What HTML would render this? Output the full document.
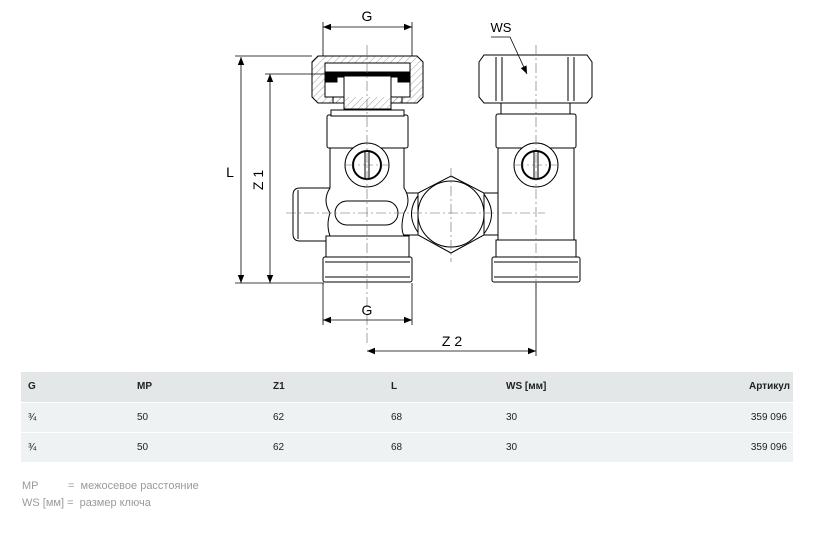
<!DOCTYPE html>
<html><head><meta charset="utf-8"><style>
body{margin:0;width:818px;height:536px;background:#fff;font-family:"Liberation Sans",sans-serif;position:relative;overflow:hidden}
svg{position:absolute;left:0;top:0}
.t{position:absolute;left:21px;width:772px;font-size:10px;color:#222}
.r{position:absolute;left:0;width:772px;height:29px}
.r span{position:absolute;top:9px}
.lg{position:absolute;font-size:11px;color:#9a9a9a}
</style></head><body>
<svg width="818" height="360" viewBox="0 0 818 360">
<defs>
<marker id="a" viewBox="0 0 10 10" refX="10" refY="5" markerWidth="10" markerHeight="8" orient="auto-start-reverse" markerUnits="userSpaceOnUse"><path d="M0,1 L10,5 L0,9z" fill="#000"/></marker>
<pattern id="h" width="5" height="5" patternUnits="userSpaceOnUse" patternTransform="rotate(45)"><line x1="0" y1="0" x2="0" y2="5" stroke="#777" stroke-width="0.7"/></pattern>
</defs>
<g fill="#fff" stroke="#000" stroke-width="1">
<!-- left side stub -->
<path d="M330,188 L300,188 Q293,188 293,195 L293,234 Q293,241 300,241 L330,241z"/>
<line x1="298" y1="190" x2="298" y2="239"/>
<rect x="400" y="193" width="20" height="42"/>
<rect x="483" y="193" width="18" height="42"/>
<path d="M483,193 Q500,214 483,235"/>
<path d="M420,193 Q403,214 420,235"/>
<path d="M330,148 L404,148 L404,188 Q412,200 404,213 Q400,228 404,236 L330,236 Q326,225 330,213 Q322,200 330,188z"/>
<rect x="326" y="236" width="83" height="21"/>
<rect x="323" y="257" width="89" height="25" rx="2"/>
<line x1="325" y1="262" x2="410" y2="262"/><line x1="325" y1="277" x2="410" y2="277"/>
<rect x="335" y="201" width="63" height="24" rx="12"/>
<rect x="327" y="115" width="81" height="33" rx="2"/>
<rect x="331" y="110" width="73" height="6"/>
<circle cx="367" cy="165" r="22"/><circle cx="367" cy="165" r="14" stroke-width="2"/>
<line x1="365" y1="152" x2="365" y2="178"/><line x1="369" y1="152" x2="369" y2="178"/>
<path d="M318,56 L417,56 L423,62 L423,97 L417,103 L318,103 L312,97 L312,62z" fill="url(#h)"/>
<rect x="325" y="63" width="85" height="34" fill="#fff"/>
<path d="M325,72 L410,72 L410,82 L398,82 L398,77 L337,77 L337,82 L325,82z" fill="#000"/>
<rect x="344" y="76" width="47" height="33"/>
<path d="M327,97 L333,97 L333,103 L344,103 L344,109 L391,109 L391,103 L402,103 L402,97 L408,97" fill="url(#h)"/>
<path d="M484,55 L587,55 L592,62 L592,97 L587,103 L484,103 L479,97 L479,62z"/>
<line x1="496" y1="57" x2="496" y2="101"/><line x1="502" y1="57" x2="502" y2="101"/>
<line x1="568" y1="57" x2="568" y2="101"/><line x1="574" y1="57" x2="574" y2="101"/>
<rect x="501" y="103" width="69" height="11"/>
<rect x="496" y="114" width="80" height="34" rx="2"/>
<rect x="498" y="148" width="76" height="92"/>
<rect x="496" y="240" width="80" height="17"/>
<rect x="492" y="257" width="88" height="25" rx="2"/>
<line x1="494" y1="262" x2="578" y2="262"/><line x1="494" y1="277" x2="578" y2="277"/>
<circle cx="536" cy="165" r="22"/><circle cx="536" cy="165" r="14" stroke-width="2"/>
<line x1="534" y1="152" x2="534" y2="178"/><line x1="538" y1="152" x2="538" y2="178"/>
<polygon points="451,176 484,193 484,235 451,253 418,235 418,193"/>
<circle cx="451" cy="214" r="33"/>
</g>
<g stroke="#666" stroke-width="0.6" stroke-dasharray="10,3,2,3" fill="none">
<line x1="367" y1="45" x2="367" y2="345"/>
<line x1="536" y1="45" x2="536" y2="290"/>
<line x1="451" y1="168" x2="451" y2="262"/>
<line x1="286" y1="213" x2="545" y2="213"/>
<line x1="345" y1="165" x2="390" y2="165"/>
<line x1="514" y1="165" x2="558" y2="165"/>
</g>
<g fill="none" stroke="#000" stroke-width="0.8">
<line x1="235" y1="56" x2="312" y2="56"/><line x1="235" y1="283" x2="324" y2="283"/>
<line x1="265" y1="74" x2="325" y2="74"/>
<line x1="323" y1="22" x2="323" y2="56"/><line x1="412" y1="22" x2="412" y2="56"/>
<line x1="323" y1="283" x2="323" y2="325"/><line x1="412" y1="283" x2="412" y2="325"/>
<line x1="536" y1="283" x2="536" y2="356"/>
<line x1="241" y1="57" x2="241" y2="283" marker-start="url(#a)" marker-end="url(#a)"/>
<line x1="270" y1="74" x2="270" y2="283" marker-start="url(#a)" marker-end="url(#a)"/>
<line x1="323" y1="27" x2="412" y2="27" marker-start="url(#a)" marker-end="url(#a)"/>
<line x1="323" y1="320" x2="412" y2="320" marker-start="url(#a)" marker-end="url(#a)"/>
<line x1="367" y1="351" x2="536" y2="351" marker-start="url(#a)" marker-end="url(#a)"/>
<polyline points="491,37 510,37 527,74" marker-end="url(#a)"/>
</g>
<g font-family="Liberation Sans,sans-serif" font-size="14" fill="#000" text-anchor="middle">
<text x="367" y="21">G</text><text x="367" y="315">G</text>
<text x="452" y="346">Z 2</text><text x="501" y="32" font-size="13">WS</text>
<text x="230" y="177">L</text>
<text transform="translate(263,180) rotate(-90)">Z 1</text>
</g>
</svg>
<div class="t" style="top:372px">
<div class="r" style="top:0;height:30px;background:#e3e7e7;font-weight:bold"><span style="left:7px">G</span><span style="left:116px">MP</span><span style="left:252px">Z1</span><span style="left:370px">L</span><span style="left:485px">WS [мм]</span><span style="right:3px">Артикул</span></div>
<div class="r" style="top:31px;background:#eef2f2"><span style="left:7px">¾</span><span style="left:116px">50</span><span style="left:252px">62</span><span style="left:370px">68</span><span style="left:485px">30</span><span style="right:6px">359 096</span></div>
<div class="r" style="top:61px;background:#eef2f2"><span style="left:7px">¾</span><span style="left:116px">50</span><span style="left:252px">62</span><span style="left:370px">68</span><span style="left:485px">30</span><span style="right:6px">359 096</span></div>
</div>
<div class="lg" style="left:22px;top:480px">MP</div><div class="lg" style="left:68px;top:480px">=&nbsp; межосевое расстояние</div>
<div class="lg" style="left:22px;top:497px">WS [мм]&nbsp;=&nbsp; размер ключа</div>
</body></html>
